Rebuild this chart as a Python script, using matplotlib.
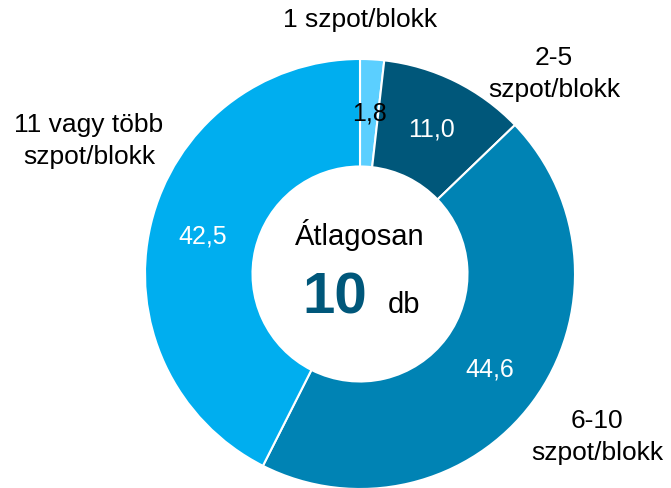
import matplotlib
matplotlib.use("Agg")
import matplotlib.pyplot as plt

plt.rcParams['font.family'] = ['Liberation Sans', 'DejaVu Sans']

# adatok
categories = ['1 szpot/blokk', '2-5\nszpot/blokk', '6-10\nszpot/blokk', '11 vagy több\nszpot/blokk']
values = [1.8, 11.0, 44.6, 42.5]
value_labels = ['1,8', '11,0', '44,6', '42,5']
colors = ['#5BCFFF', '#00577A', '#0083B4', '#00AEEF']
value_text_colors = ['black', 'white', 'white', 'white']
avg_value = '10'

W, H = 671, 488
fig = plt.figure(figsize=(W / 100, H / 100), dpi=100)

# kör középpontja és sugara pixelben
cx, cy, R = 360, 274, 215
ax = fig.add_axes([(cx - R) / W, (H - cy - R) / H, 2 * R / W, 2 * R / H])

wedges, texts = ax.pie(values, labels=value_labels, colors=colors, startangle=90,
                       counterclock=False, radius=1, labeldistance=0.75,
                       wedgeprops=dict(width=0.5, edgecolor='white', linewidth=1.5),
                       textprops=dict(fontsize=18, ha='center', va='center'))
for t, c in zip(texts, value_text_colors):
    t.set_color(c)
ax.set_xlim(-1, 1)
ax.set_ylim(-1, 1)
ax.set_aspect('equal')
ax.axis('off')


def px(x, y):
    return x / W, (H - y) / H


# kategória feliratok
label_pos = [(360, 20), (554, 74), (597, 437), (89, 141)]
for name, (x, y) in zip(categories, label_pos):
    fig.text(*px(x, y), name, fontsize=19, ha='center', va='center', linespacing=1.4)

# középső szöveg
fig.text(*px(360, 245), 'Átlagosan', fontsize=21, ha='center', va='baseline')
fig.text(*px(335, 313), avg_value, fontsize=42, fontweight='bold', color='#00577A',
         ha='center', va='baseline')
fig.text(*px(404, 313), 'db', fontsize=21, ha='center', va='baseline')

fig.savefig('out.png', dpi=100)
